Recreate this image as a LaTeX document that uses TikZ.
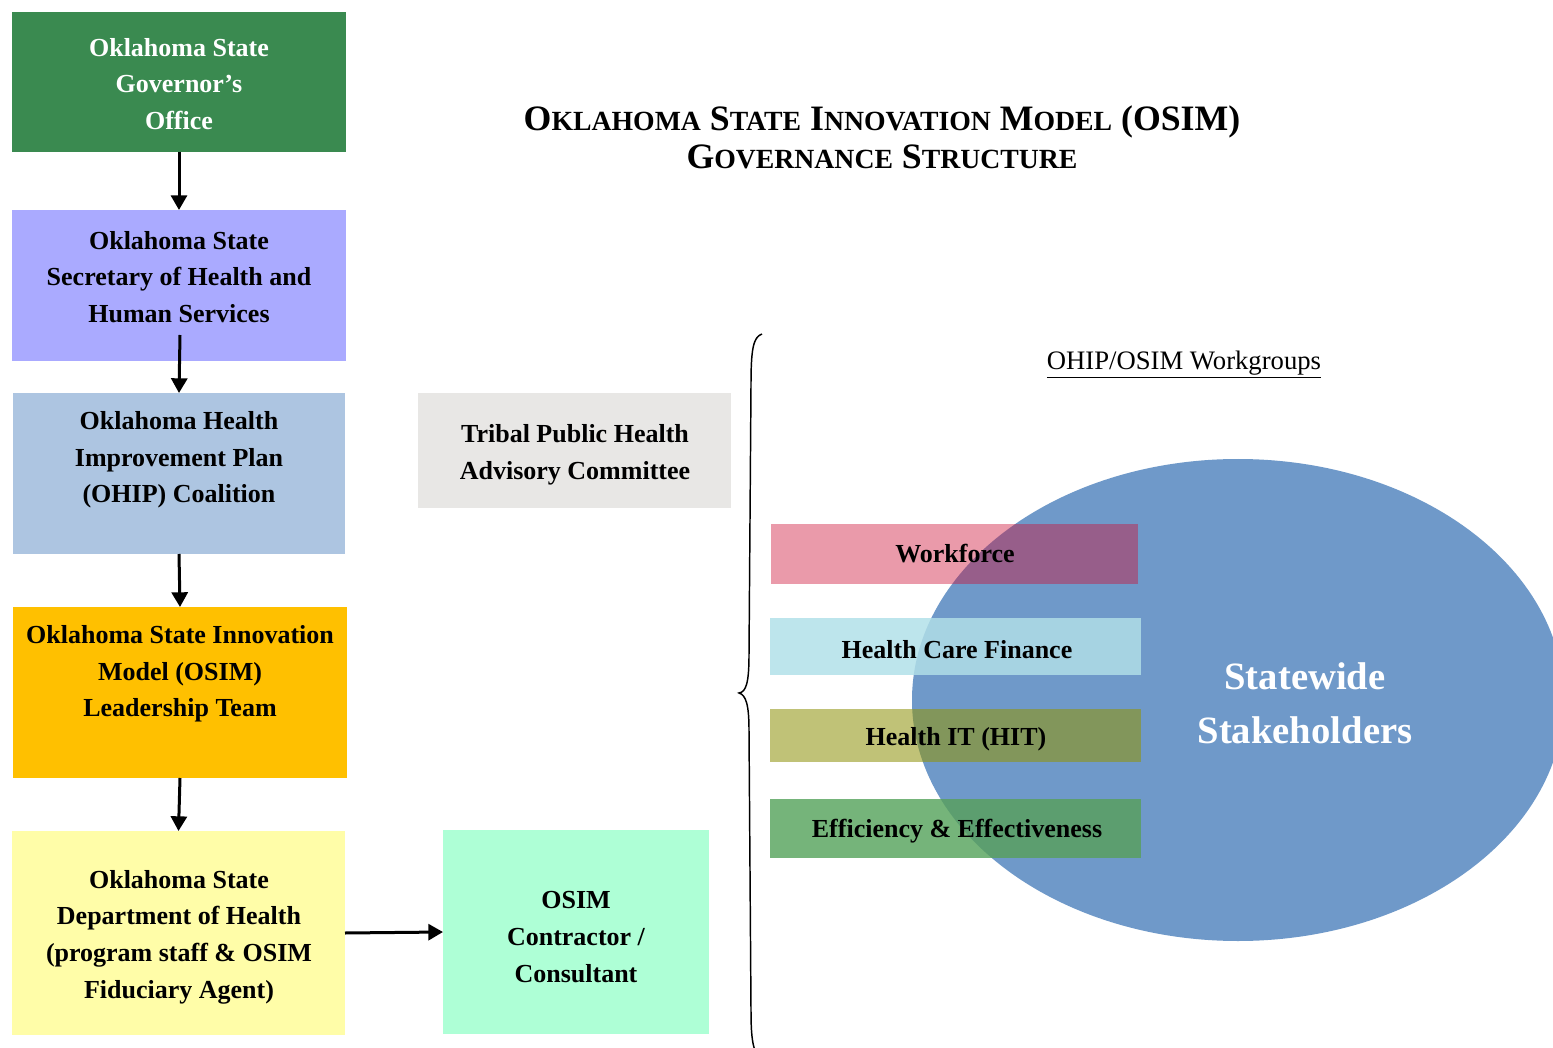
\documentclass[tikz,border=0pt]{standalone}
\usepackage{fontspec}
\setmainfont{Liberation Serif}
\usetikzlibrary{arrows.meta,shapes.geometric,calc}
\definecolor{cgov}{HTML}{3A8A50}
\definecolor{csec}{HTML}{AAAAFF}
\definecolor{cohip}{HTML}{ADC5E1}
\definecolor{clead}{HTML}{FFC000}
\definecolor{cdept}{HTML}{FFFDA8}
\definecolor{ccon}{HTML}{AEFFD6}
\definecolor{ctrib}{HTML}{E8E7E5}
\definecolor{cell}{HTML}{6F99C9}
\definecolor{cwf}{HTML}{EA9AAA}
\definecolor{cwfo}{HTML}{975E8A}
\definecolor{chcf}{HTML}{BDE5EC}
\definecolor{chcfo}{HTML}{A6D3E2}
\definecolor{chit}{HTML}{C0C277}
\definecolor{chito}{HTML}{82965B}
\definecolor{cee}{HTML}{75B47A}
\definecolor{ceeo}{HTML}{5C9E6F}
\newcommand\mySC[2]{{\fontsize{26.8pt}{28.5pt}\selectfont #1}{\fontsize{20.8pt}{28.5pt}\selectfont #2}}
\begin{document}
\begin{tikzpicture}[x=0.75pt,y=-0.75pt,
  box/.style={rectangle,inner sep=0pt,outer sep=0pt},
  btxt/.style={align=center,inner sep=0pt,font=\fontsize{19.5pt}{27.5pt}\selectfont\bfseries},
  wtxt/.style={anchor=base,inner sep=0pt,font=\fontsize{19.5pt}{27.5pt}\selectfont\bfseries},
  arr/.style={line width=2.25pt,-{Triangle[width=12pt,length=11pt]}}]
\clip (0,0) rectangle (1553,1048);
\fill[white] (0,0) rectangle (1553,1048);
% left column
\node[box,fill=cgov,minimum width=250.5pt,minimum height=105pt] (gov) at (179,82) {};
\node[box,fill=csec,minimum width=250.5pt,minimum height=113.25pt] (sec) at (179,285.5) {};
\node[box,fill=cohip,minimum width=249pt,minimum height=120.75pt] (ohip) at (179,473.5) {};
\node[box,fill=clead,minimum width=250.5pt,minimum height=128.25pt] (lead) at (180,692.5) {};
\node[box,fill=cdept,minimum width=249.75pt,minimum height=153pt] (dept) at (178.5,933) {};
\node[box,fill=ccon,minimum width=199.5pt,minimum height=153pt] (con) at (576,932) {};
\node[box,fill=ctrib,minimum width=234.75pt,minimum height=86.25pt] (trib) at (574.5,450.5) {};
\node[btxt,text=white] (govt) at (179,84) {Oklahoma State\\Governor’s\\Office};
\node[btxt] (sect) at (179,277) {Oklahoma State\\Secretary of Health and\\Human Services};
\node[btxt] (ohipt) at (179,460) {Oklahoma Health\\Improvement Plan\\(OHIP) Coalition};
\node[btxt] (leadt) at (180,674) {Oklahoma State Innovation\\Model (OSIM)\\Leadership Team};
\node[btxt] (deptt) at (179,937) {Oklahoma State\\Department of Health\\(program staff \& OSIM\\Fiduciary Agent)};
\node[btxt] (cont) at (576,937) {OSIM\\Contractor /\\Consultant};
\node[btxt] (tribt) at (575,455) {Tribal Public Health\\Advisory Committee};
% arrows
\draw[arr] (gov.south) -- (sec.north);
\draw[arr] ($(sec.south)+(1,-26)$) -- (ohip.north);
\draw[arr] (ohip.south) -- (lead.north);
\draw[arr] (lead.south) -- (dept.north);
\draw[arr] (dept.east) -- (con.west);
% title
\node[align=center,inner sep=0pt,font=\fontsize{26.8pt}{28.5pt}\selectfont\bfseries] (title) at (882,137)
  {\mySC{O}{KLAHOMA} \mySC{S}{TATE} \mySC{I}{NNOVATION} \mySC{M}{ODEL} \mySC{(OSIM)}{}\\\mySC{G}{OVERNANCE} \mySC{S}{TRUCTURE}};
% brace
\draw[line width=1.1pt] (762,334) .. controls (753,337) and (751,350) .. (751,385) -- (749,655)
  .. controls (749,683) and (746,692) .. (739,693)
  .. controls (746,695) and (749,705) .. (749,730) -- (751,1010)
  .. controls (751,1040) and (753,1050) .. (760,1060);
% workgroups
\node[anchor=base,inner sep=0pt,font=\fontsize{20pt}{24pt}\selectfont] (wgl) at (1184,370) {\underline{OHIP/OSIM Workgroups}};
\node[ellipse,fill=cell,inner sep=0pt,outer sep=0pt,minimum width=489pt,minimum height=361.5pt] (stake) at (1238,700) {};
\node[box,fill=cwf,minimum width=275.25pt,minimum height=45pt] (wf) at (954.5,554) {};
\node[box,fill=chcf,minimum width=278.25pt,minimum height=42.75pt] (hcf) at (955.5,646.5) {};
\node[box,fill=chit,minimum width=278.25pt,minimum height=39.75pt] (hit) at (955.5,735.5) {};
\node[box,fill=cee,minimum width=278.25pt,minimum height=44.25pt] (ee) at (955.5,828.5) {};
\begin{scope}
\clip (stake.center) ellipse [x radius=244.5pt, y radius=180.75pt];
\fill[cwfo] (wf.south west) rectangle (wf.north east);
\fill[chcfo] (hcf.south west) rectangle (hcf.north east);
\fill[chito] (hit.south west) rectangle (hit.north east);
\fill[ceeo] (ee.south west) rectangle (ee.north east);
\end{scope}
\node[wtxt] (wft) at (955,562) {Workforce};
\node[wtxt] (hcft) at (957,658) {Health Care Finance};
\node[wtxt] (hitt) at (956,745) {Health IT (HIT)};
\node[wtxt] (eet) at (957,837) {Efficiency \& Effectiveness};
\node[align=center,inner sep=0pt,text=white,font=\fontsize{29pt}{40.5pt}\selectfont\bfseries] (staket) at (1305,703) {Statewide\\Stakeholders};
\end{tikzpicture}
\end{document}
